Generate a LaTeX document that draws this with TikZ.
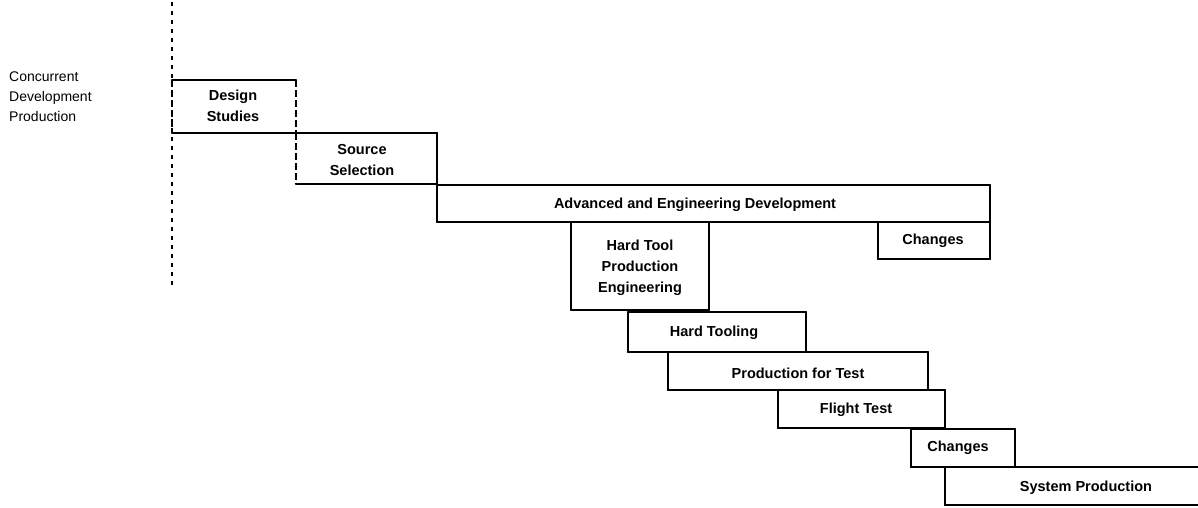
\documentclass[tikz,border=0pt]{standalone}
\usepackage{fontspec}
\setmainfont{Liberation Sans}

% One stage of the schedule: a box whose top and bottom are heavy rails
% and whose ends are lighter strokes.
% #1 = style of the ends, #2 = name, #3..#6 = x1, y1, x2, y2
\newcommand\stagebox[6][side]{%
  \node[stage, minimum width={(#5-#3)*1pt}, minimum height={(#6-#4)*1pt}]
    (#2) at ({(#3+#5)/2},{(#4+#6)/2}) {};
  \draw[#1] (#2.north west) -- (#2.south west)
            (#2.north east) -- (#2.south east);
  \draw[rail] (#2.north west) -- (#2.north east)
              (#2.south west) -- (#2.south east);
}

\begin{document}
\begin{tikzpicture}[x=1pt, y=-1pt,
  stage/.style={rectangle, inner sep=0pt, outer sep=0pt, draw=none},
  rail/.style={line width=2.4pt, line cap=round},
  side/.style={line width=1.5pt, line cap=round},
  dside/.style={line width=1.5pt, dash pattern=on 7pt off 3pt},
  lbl/.style={font=\bfseries\fontsize{14.5}{21}\selectfont, align=center, inner sep=0pt},
  rowlbl/.style={font=\fontsize{14}{20}\selectfont, align=left, inner sep=0pt, anchor=west},
  axis/.style={line width=1.3pt, dash pattern=on 4pt off 5pt}]

\useasboundingbox[fill=white] (0,0) rectangle (1198,507);

% time axis at the start of the programme
\coordinate (axtop) at (172,2);
\coordinate (axbot) at (172,285);
\draw[axis] (axtop) -- (axbot);

% row heading
\node[rowlbl] (cdp) at (9,97) {Concurrent\\Development\\Production};

% stages
\stagebox[dside]{ds}{172}{80}{296}{133}
\stagebox[dside]{ss}{296}{133}{437}{184}
\stagebox{ad}{437}{185}{990}{222}
\stagebox{hp}{571}{222}{709}{310}
\stagebox{ca}{878}{222}{990}{259}
\stagebox{ht}{628}{312}{806}{352}
\stagebox{pt}{668}{352}{928}{390}
\stagebox{ft}{778}{390}{945}{428}
\stagebox{cb}{911}{429}{1015}{467}
\stagebox{sp}{945}{467}{1204}{505}
\draw[side] (ss.north east) -- (ad.north west);

% stage names
\node[lbl] (ds-t) at (233,106) {Design\\Studies};
\node[lbl] (ss-t) at (362,160) {Source\\Selection};
\node[lbl] (ad-t) at (695,205) {Advanced and Engineering Development};
\node[lbl] (hp-t) at (640,268) {Hard Tool\\Production\\Engineering};
\node[lbl] (ca-t) at (933,241) {Changes};
\node[lbl] (ht-t) at (714,333) {Hard Tooling};
\node[lbl] (pt-t) at (798,373) {Production for Test};
\node[lbl] (ft-t) at (856,410) {Flight Test};
\node[lbl] (cb-t) at (958,448) {Changes};
\node[lbl] (sp-t) at (1086,488) {System Production};
\end{tikzpicture}
\end{document}
